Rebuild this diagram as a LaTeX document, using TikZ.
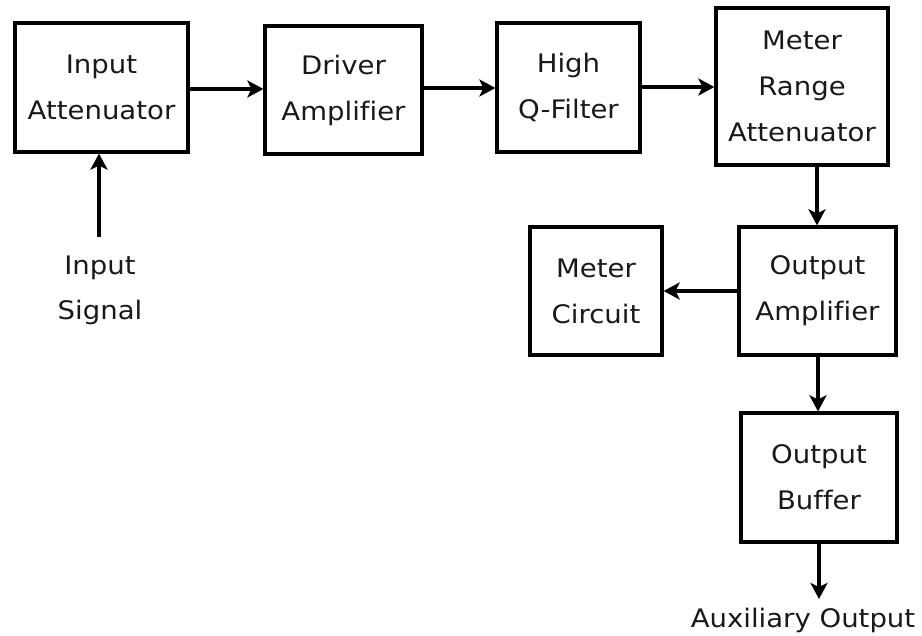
\documentclass[tikz,border=0pt]{standalone}
\usepackage{fontspec}
\setmainfont{DejaVu Sans}[FakeStretch=1.08,Ligatures=NoCommon]
\usetikzlibrary{arrows.meta}
\begin{document}
\begin{tikzpicture}[x=1pt,y=-1pt,
  blk/.style={draw, line width=3.2pt, rectangle, inner sep=0pt, align=center,
    font=\fontsize{25.5}{46}\selectfont, text=black!90},
  lbl/.style={align=center, font=\fontsize{25.5}{45}\selectfont, text=black!90, inner sep=0pt},
  arr/.style={line width=3.2pt, -{Stealth[length=16pt,width=17pt,inset=4pt]}}]
\useasboundingbox (0,0) rectangle (922,636);
\node[blk, minimum width=173pt, minimum height=129pt] (inatt) at (101.5,87.5) {Input\\Attenuator};
\node[blk, minimum width=157pt, minimum height=128pt] (drv) at (343.5,90) {Driver\\Amplifier};
\node[blk, minimum width=143pt, minimum height=129pt] (hq) at (568.5,87.5) {High\\Q-Filter};
\node[blk, minimum width=172pt, minimum height=157pt] (mra) at (802,86.5) {Meter\\Range\\Attenuator};
\node[blk, minimum width=132pt, minimum height=128pt] (mc) at (596,291) {Meter\\Circuit};
\node[blk, minimum width=157pt, minimum height=128pt] (oa) at (817.5,291) {Output\\Amplifier};
\node[blk, minimum width=156pt, minimum height=129pt] (ob) at (819,477.5) {Output\\Buffer};
\node[lbl] (sig) at (100,290) {Input\\Signal};
\node[lbl] (aux) at (803,620) {Auxiliary Output};
\coordinate (sigtop) at (99,237);
\coordinate (auxend) at (819,599);
\draw[arr] (inatt.east |- 0,89) -- (drv.west |- 0,89);
\draw[arr] (drv.east |- 0,88) -- (hq.west |- 0,88);
\draw[arr] (hq.east |- 0,87) -- (mra.west |- 0,87);
\draw[arr] (mra.south -| 817,0) -- (oa.north -| 817,0);
\draw[arr] (oa.west) -- (mc.east);
\draw[arr] (oa.south -| 818,0) -- (ob.north -| 818,0);
\draw[arr] (ob.south) -- (auxend);
\draw[arr] (sigtop) -- (sigtop |- inatt.south);
\end{tikzpicture}
\end{document}
